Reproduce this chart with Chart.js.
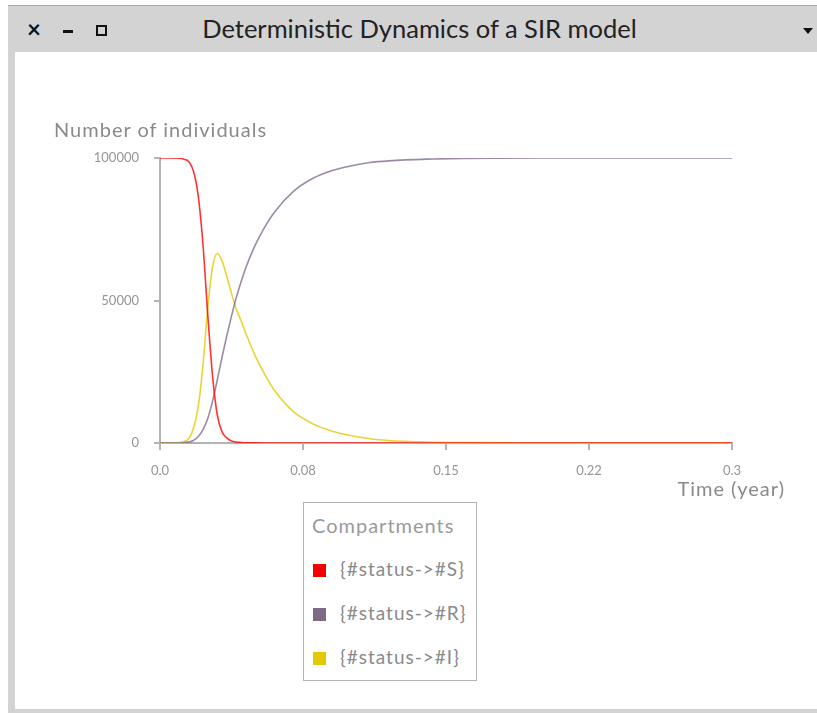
<!DOCTYPE html>
<html>
<head>
<meta charset="utf-8">
<title>Deterministic Dynamics of a SIR model</title>
<script src="https://cdn.jsdelivr.net/npm/chart.js@4/dist/chart.umd.min.js"></script>
<style>
  html, body { margin: 0; padding: 0; background: #fff; }
  body { width: 817px; height: 713px; position: relative; overflow: hidden; font-family: Lato, "Noto Sans", sans-serif; }
  .frame { position: absolute; left: 8px; top: 5px; right: 0; height: 707px; background: #d3d3d3; border-top: 1px solid #a8a8a8; }
  .content { position: absolute; left: 15px; top: 52px; right: 0; height: 657px; background: #fff; }
  .win-title { position: absolute; top: 13px; left: 11px; width: 817px; text-align: center; font-size: 25.5px; color: #222; }
  .btn-close { position: absolute; left: 27px; top: 14px; font-size: 24px; font-weight: bold; color: #111; }
  .btn-min { position: absolute; left: 63px; top: 30px; width: 10px; height: 2.5px; background: #111; }
  .btn-max { position: absolute; left: 96px; top: 25px; width: 7px; height: 7px; border: 2.5px solid #111; }
  .btn-menu { position: absolute; left: 803px; top: 28px; width: 0; height: 0; border-left: 5px solid transparent; border-right: 5px solid transparent; border-top: 6px solid #111; }
  #chart { position: absolute; left: 0; top: 0; }
  .axis-title { position: absolute; font-size: 20px; letter-spacing: 1px; color: #8a8a8a; white-space: nowrap; }
  #legend { position: absolute; left: 303px; top: 502px; width: 172px; height: 177px; border: 1px solid #b3b3b3; background: #fff; }
  #legend .lg-title { position: absolute; left: 8px; top: 10px; font-size: 20px; letter-spacing: 1px; color: #9a9a9a; }
  #legend .lg-item { position: absolute; left: 9px; font-size: 19px; letter-spacing: 1px; color: #8a8a8a; white-space: nowrap; }
  #legend .lg-box { display: inline-block; width: 13px; height: 13px; vertical-align: -1px; margin-right: 14px; }
</style>
</head>
<body>
<div class="frame"></div>
<div class="content"></div>
<div class="btn-close">×</div>
<div class="btn-min"></div>
<div class="btn-max"></div>
<div class="win-title">Deterministic Dynamics of a SIR model</div>
<div class="btn-menu"></div>

<canvas id="chart" width="817" height="713"></canvas>

<div class="axis-title" style="left:54px; top:117px;">Number of individuals</div>
<div class="axis-title" style="right:32px; top:476px;">Time (year)</div>
<div id="legend"></div>

<script>
// ===== Data =====
const times = [0, 0.005, 0.01, 0.0125, 0.015, 0.0175, 0.02, 0.0225, 0.025, 0.0275,
               0.03, 0.0325, 0.035, 0.0375, 0.04, 0.0425, 0.045, 0.05, 0.055, 0.06, 0.07,
               0.08, 0.09, 0.1, 0.11, 0.12, 0.14, 0.16, 0.18, 0.2, 0.25, 0.3];

const susceptible = [100000, 100000, 99900, 99600, 98800, 95500, 87000, 70000, 45500, 24000,
                     10000, 4000, 1800, 700, 300, 180, 100, 40, 20, 10, 5,
                     0, 0, 0, 0, 0, 0, 0, 0, 0, 0, 0];

const recovered = [0, 0, 20, 100, 300, 900, 2200, 4600, 8500, 14500,
                   22000, 30000, 37500, 44500, 51000, 56500, 61500, 69500, 75800, 81000, 88300,
                   92800, 95500, 97200, 98400, 99000, 99600, 99850, 99950, 100000, 100000, 100000];

const infected = [0, 0, 150, 500, 1500, 5000, 12500, 27000, 47000, 61500,
                  66500, 64000, 58500, 52500, 47000, 43000, 38500, 30500, 24000, 18500, 11000,
                  6800, 4200, 2600, 1500, 900, 350, 120, 40, 15, 0, 0];

const seriesLabels = ['{#status->#S}', '{#status->#R}', '{#status->#I}'];
const xTickValues  = [0, 0.075, 0.15, 0.225, 0.3];
const xTickLabels  = ['0.0', '0.08', '0.15', '0.22', '0.3'];
const yTickValues  = [0, 50000, 100000];
const yTickLabels  = ['0', '50000', '100000'];

// ===== Styles =====
const lineColors   = ['rgba(255,0,0,0.8)', 'rgba(120,100,135,0.75)', 'rgba(230,200,0,0.8)'];
const legendColors = ['#f20000', '#7f6a86', '#e5c800'];
const tickFont     = { family: 'Lato, "Noto Sans", sans-serif', size: 13 };
const axisGray     = '#b4b4b4';

const toPoints = ys => times.map((t, i) => ({ x: t, y: ys[i] }));
const series   = [susceptible, recovered, infected];

const chart = new Chart(document.getElementById('chart'), {
  type: 'line',
  data: {
    datasets: series.map((ys, i) => ({
      label: seriesLabels[i],
      data: toPoints(ys),
      borderColor: lineColors[i],
      backgroundColor: legendColors[i],
      borderWidth: 1.6,
      pointRadius: 0,
      fill: false,
      cubicInterpolationMode: 'monotone',
    })),
  },
  options: {
    responsive: false,
    animation: false,
    layout: { padding: { top: 158, right: 85, bottom: 230, left: 0 } },
    plugins: {
      legend: { display: false },
      tooltip: { enabled: false },
    },
    scales: {
      x: {
        type: 'linear',
        min: 0, max: 0.3,
        afterBuildTicks: axis => { axis.ticks = xTickValues.map(v => ({ value: v })); },
        afterFit: axis => { axis.height = 40; },
        ticks: {
          callback: (v, i) => xTickLabels[i],
          color: '#959595', font: tickFont, padding: 13, maxRotation: 0,
        },
        grid: { drawOnChartArea: false, color: axisGray, lineWidth: 2, tickLength: 7 },
        border: { color: axisGray, width: 2 },
      },
      y: {
        min: 0, max: 100000,
        afterBuildTicks: axis => { axis.ticks = yTickValues.map(v => ({ value: v })); },
        afterFit: axis => { axis.width = 160; },
        ticks: {
          callback: (v, i) => yTickLabels[i],
          color: '#959595', font: tickFont, padding: 15,
        },
        grid: { drawOnChartArea: false, color: axisGray, lineWidth: 2, tickLength: 6 },
        border: { color: axisGray, width: 2 },
      },
    },
  },
});

// ===== Legend (built from the datasets) =====
const legend = document.getElementById('legend');
legend.innerHTML = '<div class="lg-title">Compartments</div>' +
  chart.data.datasets.map((d, i) => `
    <div class="lg-item" style="top:${54 + i * 44}px">
      <span class="lg-box" style="background:${d.backgroundColor}"></span>${d.label}
    </div>`).join('');
</script>
</body>
</html>
